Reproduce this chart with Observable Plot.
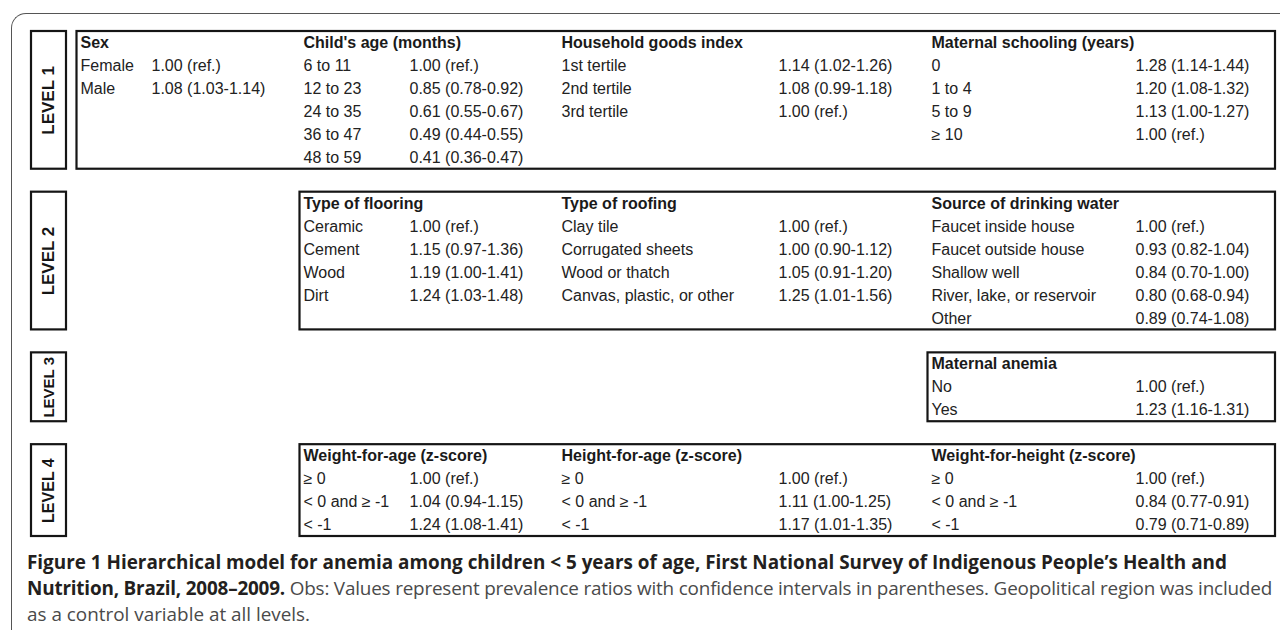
<!DOCTYPE html>
<html>
<head>
<meta charset="utf-8">
<script src="https://cdn.jsdelivr.net/npm/d3@7"></script>
<script src="https://cdn.jsdelivr.net/npm/@observablehq/plot@0.6"></script>
<style>
  html, body { margin: 0; padding: 0; background: #fff; }
  body { width: 1280px; height: 630px; overflow: hidden; position: relative; }
  #frame { position: absolute; left: 11px; top: 13px; width: 1320px; height: 700px;
           border-left: 1.5px solid #555; border-top: 1.5px solid #555; border-top-left-radius: 15px; }
  #chart { position: absolute; left: 0; top: 0; }
  #caption { position: absolute; left: 27px; top: 549px; font-family: "Open Sans", sans-serif;
             font-size: 17px; line-height: 26px; color: #4a4a4a; white-space: nowrap; }
  #caption .ln { display: block; width: max-content; }
  #caption b { color: #231f20; font-weight: 700; }
</style>
</head>
<body>
<div id="frame"></div>
<div id="chart"></div>
<div id="caption">
  <span class="ln"><b>Figure 1 Hierarchical model for anemia among children &lt; 5 years of age, First National Survey of Indigenous People’s Health and</b></span>
  <span class="ln"><b>Nutrition, Brazil, 2008–2009.</b> Obs: Values represent prevalence ratios with confidence intervals in parentheses. Geopolitical region was included</span>
  <span class="ln">as a control variable at all levels.</span>
</div>
<script>
// ---------------- data ----------------
const levels = ["LEVEL 1", "LEVEL 2", "LEVEL 3", "LEVEL 4"];

const sexCategories = ["Female", "Male"];
const sexValues = ["1.00 (ref.)", "1.08 (1.03-1.14)"];

const ageCategories = ["6 to 11", "12 to 23", "24 to 35", "36 to 47", "48 to 59"];
const ageValues = ["1.00 (ref.)", "0.85 (0.78-0.92)", "0.61 (0.55-0.67)", "0.49 (0.44-0.55)", "0.41 (0.36-0.47)"];

const goodsCategories = ["1st tertile", "2nd tertile", "3rd tertile"];
const goodsValues = ["1.14 (1.02-1.26)", "1.08 (0.99-1.18)", "1.00 (ref.)"];

const schoolingCategories = ["0", "1 to 4", "5 to 9", "≥ 10"];
const schoolingValues = ["1.28 (1.14-1.44)", "1.20 (1.08-1.32)", "1.13 (1.00-1.27)", "1.00 (ref.)"];

const flooringCategories = ["Ceramic", "Cement", "Wood", "Dirt"];
const flooringValues = ["1.00 (ref.)", "1.15 (0.97-1.36)", "1.19 (1.00-1.41)", "1.24 (1.03-1.48)"];

const roofingCategories = ["Clay tile", "Corrugated sheets", "Wood or thatch", "Canvas, plastic, or other"];
const roofingValues = ["1.00 (ref.)", "1.00 (0.90-1.12)", "1.05 (0.91-1.20)", "1.25 (1.01-1.56)"];

const waterCategories = ["Faucet inside house", "Faucet outside house", "Shallow well", "River, lake, or reservoir", "Other"];
const waterValues = ["1.00 (ref.)", "0.93 (0.82-1.04)", "0.84 (0.70-1.00)", "0.80 (0.68-0.94)", "0.89 (0.74-1.08)"];

const anemiaCategories = ["No", "Yes"];
const anemiaValues = ["1.00 (ref.)", "1.23 (1.16-1.31)"];

const zCategories = ["≥ 0", "< 0 and ≥ -1", "< -1"];
const wfaValues = ["1.00 (ref.)", "1.04 (0.94-1.15)", "1.24 (1.08-1.41)"];
const hfaValues = ["1.00 (ref.)", "1.11 (1.00-1.25)", "1.17 (1.01-1.35)"];
const wfhValues = ["1.00 (ref.)", "0.84 (0.77-0.91)", "0.79 (0.71-0.89)"];

// variable -> level and column slot
const variables = [
  {level: 0, slot: 0, title: "Sex", cats: sexCategories, vals: sexValues},
  {level: 0, slot: 1, title: "Child's age (months)", cats: ageCategories, vals: ageValues},
  {level: 0, slot: 2, title: "Household goods index", cats: goodsCategories, vals: goodsValues},
  {level: 0, slot: 3, title: "Maternal schooling (years)", cats: schoolingCategories, vals: schoolingValues},
  {level: 1, slot: 1, title: "Type of flooring", cats: flooringCategories, vals: flooringValues},
  {level: 1, slot: 2, title: "Type of roofing", cats: roofingCategories, vals: roofingValues},
  {level: 1, slot: 3, title: "Source of drinking water", cats: waterCategories, vals: waterValues},
  {level: 2, slot: 3, title: "Maternal anemia", cats: anemiaCategories, vals: anemiaValues},
  {level: 3, slot: 1, title: "Weight-for-age (z-score)", cats: zCategories, vals: wfaValues},
  {level: 3, slot: 2, title: "Height-for-age (z-score)", cats: zCategories, vals: hfaValues},
  {level: 3, slot: 3, title: "Weight-for-height (z-score)", cats: zCategories, vals: wfhValues}
];

// ---------------- layout ----------------
const nameX = [80, 303, 561, 931];      // category column per slot
const valueX = [151, 409, 778, 1135];   // value column per slot
const labelBox = [31, 66];
const boxRight = 1275;
const labelSizes = [17, 17, 15, 16];

// rows per level (header + max categories), one empty row between levels
let cursor = 0;
const levelTable = levels.map((name, i) => {
  const vars = variables.filter(v => v.level === i);
  const nrows = 1 + d3.max(vars, v => v.cats.length);
  const firstSlot = d3.min(vars, v => v.slot);
  const row = {name, level: i, start: cursor, end: cursor + nrows, boxLeft: nameX[firstSlot] - 3.5, size: labelSizes[i]};
  cursor += nrows + 1;
  return row;
});
const totalRows = cursor - 1;

const headers = [], cells = [];
for (const v of variables) {
  const s = levelTable[v.level].start;
  headers.push({x: nameX[v.slot], y: s + 0.5, text: v.title});
  v.cats.forEach((c, i) => {
    cells.push({x: nameX[v.slot], y: s + i + 1.5, text: c});
    cells.push({x: valueX[v.slot], y: s + i + 1.5, text: v.vals[i]});
  });
}

const font = "'Liberation Sans', Arial, Helvetica, sans-serif";
const chart = Plot.plot({
  width: 1280,
  height: 545,
  margin: 0,
  style: {fontFamily: font, background: "transparent", overflow: "visible"},
  x: {domain: [0, 1280], range: [0, 1280], axis: null},
  y: {domain: [0, totalRows], range: [31, 536], axis: null},
  marks: [
    Plot.rect(levelTable, {x1: () => labelBox[0], x2: () => labelBox[1], y1: "start", y2: "end",
      fill: "none", stroke: "#151515", strokeWidth: 2.2}),
    Plot.rect(levelTable, {x1: "boxLeft", x2: () => boxRight, y1: "start", y2: "end",
      fill: "none", stroke: "#151515", strokeWidth: 2.2}),
    Plot.text(levelTable, {x: () => (labelBox[0] + labelBox[1]) / 2, y: d => (d.start + d.end) / 2,
      text: "name", rotate: -90, fontSize: d => d.size, fontWeight: "bold", fill: "#151515"}),
    Plot.text(headers, {x: "x", y: "y", text: "text", textAnchor: "start", fontSize: 16,
      fontWeight: "bold", fill: "#1a1a1a"}),
    Plot.text(cells, {x: "x", y: "y", text: "text", textAnchor: "start", fontSize: 16, fill: "#222"})
  ]
});
// fontSize channel: apply constant per-element sizes if needed
document.getElementById("chart").appendChild(chart);

// fit caption lines to the reference widths
const cap = document.getElementById("caption");
const lines = cap.querySelectorAll(".ln");
const w1 = lines[0].getBoundingClientRect().width;
const fs = 17 * 1201 / w1;
cap.style.fontSize = fs + "px";
const targets = [null, 1245, null];
lines.forEach((ln, i) => {
  if (!targets[i]) return;
  const w = ln.getBoundingClientRect().width;
  const n = ln.textContent.length;
  ln.style.letterSpacing = ((targets[i] - w) / n) + "px";
});
</script>
</body>
</html>
